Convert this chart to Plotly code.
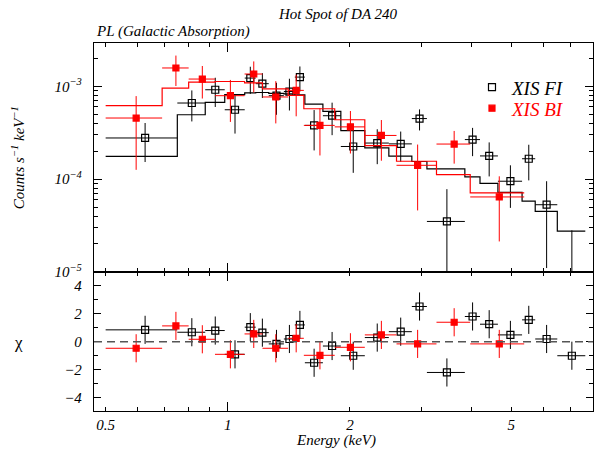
import math
import plotly.graph_objects as go

# ---------------- data ----------------
# XIS FI (front-illuminated) spectrum: bin edges (keV), rate, 1-sigma error, model, residual
fi_elo = [0.500, 0.751, 0.880, 0.983, 1.101, 1.172, 1.262, 1.375, 1.463, 1.549, 1.716,
          1.900, 2.177, 2.495, 2.843, 3.097, 3.841, 4.186, 4.634, 5.315, 5.727, 6.492]
fi_ehi = fi_elo[1:] + [7.61]
fi_rate = [2.78e-4, 6.62e-4, 9.2e-4, 5.6e-4, 1.23e-3, 1.07e-3, 7.94e-4, 8.8e-4, 1.26e-3,
           3.8e-4, 4.83e-4, 2.25e-4, 2.45e-4, 2.4e-4, 4.5e-4, 3.5e-5, 2.67e-4, 1.78e-4,
           9.5e-5, 1.66e-4, 5.3e-5, 1.0e-6]
fi_err = [1.25e-4, 2.43e-4, 3.2e-4, 2.5e-4, 4.0e-4, 3.2e-4, 3.0e-4, 3.3e-4, 3.8e-4,
          1.76e-4, 1.85e-4, 1.08e-4, 1.0e-4, 0.86e-4, 1.15e-4, 4.3e-5, 0.9e-4, 0.71e-4,
          4.6e-5, 0.69e-4, 4.2e-5, 2.7e-5]
fi_model = [1.76e-4, 4.95e-4, 6.73e-4, 8.15e-4, 8.5e-4, 8.6e-4, 8.4e-4, 8.3e-4, 8.1e-4,
            6.45e-4, 5.38e-4, 3.33e-4, 2.17e-4, 1.77e-4, 1.55e-4, 1.29e-4, 1.06e-4, 9.0e-5,
            7.2e-5, 5.8e-5, 4.5e-5, 2.75e-5]
fi_chi = [0.84, 0.67, 0.79, -0.90, 1.03, 0.64, -0.16, 0.19, 1.19, -1.50, -0.31,
          -1.00, 0.29, 0.71, 2.50, -2.19, 1.79, 1.24, 0.48, 1.55, 0.19, -1.00]

# XIS BI (back-illuminated) spectrum
bi_elo = [0.500, 0.689, 0.801, 0.930, 1.100, 1.218, 1.409, 1.540, 1.835, 2.177, 2.606,
          3.270, 3.960]
bi_ehi = bi_elo[1:] + [5.38]
bi_rate = [4.56e-4, 1.58e-3, 1.20e-3, 7.94e-4, 1.36e-3, 7.69e-4, 9.06e-4, 3.80e-4,
           3.66e-4, 2.96e-4, 1.41e-4, 2.39e-4, 6.43e-5]
bi_err = [3.3e-4, 5.7e-4, 4.6e-4, 3.8e-4, 5.0e-4, 3.7e-4, 4.3e-4, 2.0e-4, 1.77e-4,
          1.38e-4, 9.5e-5, 9.2e-5, 4.3e-5]
bi_model = [6.19e-4, 9.6e-4, 1.11e-3, 1.13e-3, 1.09e-3, 9.4e-4, 8.0e-4, 5.74e-4,
            4.37e-4, 2.30e-4, 1.56e-4, 1.12e-4, 7.1e-5]
bi_chi = [-0.47, 1.12, 0.17, -0.90, 0.55, -0.47, 0.24, -0.97, -0.40, 0.48, -0.16,
          1.38, -0.16]

x_ticks = [0.5, 1, 2, 5]
x_ticktext = ["0.5", "1", "2", "5"]
x_minor = [0.6, 0.7, 0.8, 0.9, 3, 4, 6, 7]
y_ticks = [1e-5, 1e-4, 1e-3]
y_ticktext = ["10<sup>\u22125</sup>", "10<sup>\u22124</sup>", "10<sup>\u22123</sup>"]
y_minor = [m * d for d in (1e-5, 1e-4) for m in range(2, 10)] + [2e-3, 3e-3]
chi_ticks = [-4, -2, 0, 2, 4]
chi_ticktext = ["\u22124", "\u22122", "0", "2", "4"]
chi_minor = [-3, -1, 1, 3]

# ---------------- figure ----------------
FONT = "Liberation Serif"
RED = "#ff0000"
BLACK = "#000000"


def centers(lo, hi):
    return [(a + b) / 2 for a, b in zip(lo, hi)]


def xerr(lo, hi):
    c = centers(lo, hi)
    return [h - m for h, m in zip(hi, c)], [m - l for m, l in zip(c, lo)]


fig = go.Figure()

for lo, hi, rate, err, model, chi, col, name, sym, size, leg in [
    (fi_elo, fi_ehi, fi_rate, fi_err, fi_model, fi_chi, BLACK,
     "<i>XIS FI</i>", "square-open", 7, "legend"),
    (bi_elo, bi_ehi, bi_rate, bi_err, bi_model, bi_chi, RED,
     "<i><span style='color:#ff0000'>XIS BI</span></i>", "square", 6, "legend2"),
]:
    xc = centers(lo, hi)
    xp, xm = xerr(lo, hi)
    # data points, top panel
    fig.add_trace(go.Scatter(
        x=xc, y=rate, mode="markers", name=name, xaxis="x2", yaxis="y", legend=leg,
        marker=dict(symbol=sym, size=size, color=col, line=dict(color=col, width=1.2)),
        error_x=dict(type="data", array=xp, arrayminus=xm, color=col, thickness=1, width=0),
        error_y=dict(type="data", array=err, arrayminus=err, color=col, thickness=1, width=0),
        hoverinfo="skip",
    ))
    # folded model as a step histogram
    fig.add_trace(go.Scatter(
        x=lo + [hi[-1]], y=model + [model[-1]], mode="lines", xaxis="x2", yaxis="y",
        line=dict(color=col, width=1.2, shape="hv"), showlegend=False, hoverinfo="skip",
    ))
    # residuals, bottom panel
    fig.add_trace(go.Scatter(
        x=xc, y=chi, mode="markers", xaxis="x", yaxis="y2", showlegend=False,
        marker=dict(symbol=sym, size=size, color=col, line=dict(color=col, width=1.2)),
        error_x=dict(type="data", array=xp, arrayminus=xm, color=col, thickness=1, width=0),
        error_y=dict(type="data", array=[1] * len(chi), color=col, thickness=1, width=0),
        hoverinfo="skip",
    ))

# invisible traces for the long decade tick at 1 keV
fig.add_trace(go.Scatter(x=[1], y=[0], xaxis="x3", yaxis="y2", mode="markers",
                         marker=dict(opacity=0), showlegend=False, hoverinfo="skip"))
fig.add_trace(go.Scatter(x=[1], y=[1e-4], xaxis="x4", yaxis="y", mode="markers",
                         marker=dict(opacity=0), showlegend=False, hoverinfo="skip"))

xr = [math.log10(0.468), math.log10(7.95)]
tickfont = dict(family=FONT, size=15, color=BLACK, style="italic")
axis_common = dict(showline=True, linecolor=BLACK, linewidth=1.3, mirror="ticks",
                   ticks="inside", tickcolor=BLACK, tickwidth=1, showgrid=False,
                   zeroline=False, tickfont=tickfont)
leg_common = dict(xanchor="left", yanchor="top",
                  font=dict(family=FONT, size=19, color=BLACK),
                  bgcolor="rgba(0,0,0,0)", borderwidth=0)

fig.update_layout(
    width=595, height=449,
    margin=dict(l=94, r=2, t=43, b=38),
    paper_bgcolor="white", plot_bgcolor="white",
    xaxis=dict(type="log", range=xr, anchor="y2", domain=[0, 1],
               tickmode="array", tickvals=x_ticks, ticktext=x_ticktext, ticklen=4,
               ticklabelstandoff=0,
               minor=dict(tickmode="array", tickvals=x_minor, ticks="inside", ticklen=4,
                          tickcolor=BLACK, showgrid=False),
               **axis_common),
    xaxis2=dict(type="log", range=xr, anchor="y", matches="x", showticklabels=False,
                tickmode="array", tickvals=x_ticks, ticklen=4,
                minor=dict(tickmode="array", tickvals=x_minor, ticks="inside", ticklen=4,
                           tickcolor=BLACK, showgrid=False),
                **axis_common),
    xaxis3=dict(type="log", range=xr, anchor="y2", overlaying="x", showticklabels=False,
                tickmode="array", tickvals=[1], ticks="inside", ticklen=9, tickcolor=BLACK,
                mirror="ticks", showline=False, showgrid=False, zeroline=False),
    xaxis4=dict(type="log", range=xr, anchor="y", overlaying="x2", showticklabels=False,
                tickmode="array", tickvals=[1], ticks="inside", ticklen=9, tickcolor=BLACK,
                mirror="ticks", showline=False, showgrid=False, zeroline=False),
    yaxis=dict(type="log", range=[-5, -2.532], domain=[0.378, 1], anchor="x2",
               tickmode="array", tickvals=y_ticks, ticktext=y_ticktext, ticklen=8,
               ticklabelstandoff=8,
               minor=dict(tickmode="array", tickvals=y_minor, ticks="inside", ticklen=4,
                          tickcolor=BLACK, showgrid=False),
               **axis_common),
    yaxis2=dict(range=[-4.93, 4.96], domain=[0, 0.378], anchor="x",
                tickmode="array", tickvals=chi_ticks, ticktext=chi_ticktext, ticklen=7,
                ticklabelstandoff=8,
                minor=dict(tickmode="array", tickvals=chi_minor, ticks="inside", ticklen=4,
                           tickcolor=BLACK, showgrid=False),
                **axis_common),
    legend=dict(x=0.7575, y=0.9312, **leg_common),
    legend2=dict(x=0.7575, y=0.8742, **leg_common),
    showlegend=True,
)

# zero line in the residual panel
fig.add_shape(type="line", xref="x domain", yref="y2", x0=0, x1=1, y0=0, y1=0,
              line=dict(color="#555555", width=1.5, dash="8px,5px"))

ann_font = dict(family=FONT, size=15, color=BLACK)
fig.add_annotation(text="<i>Hot Spot of DA 240</i>", xref="paper", yref="paper",
                   x=0.489, y=1.0788, xanchor="center", yanchor="middle",
                   showarrow=False, font=dict(family=FONT, size=15, color=BLACK))
fig.add_annotation(text="<i>PL (Galactic Absorption)</i>", xref="paper", yref="paper",
                   x=0.0, y=1.03, xanchor="left", yanchor="middle",
                   showarrow=False, font=ann_font)
fig.add_annotation(text="<i>Counts s<sup>\u22121</sup> keV<sup>\u22121</sup></i>",
                   xref="paper", yref="paper", x=-0.152, y=0.6875, textangle=-90,
                   xanchor="center", yanchor="middle", showarrow=False, font=ann_font)
fig.add_annotation(text="\u03c7", xref="paper", yref="paper", x=-0.152, y=0.187,
                   xanchor="center", yanchor="middle", showarrow=False,
                   font=dict(family=FONT, size=17, color=BLACK))
fig.add_annotation(text="<i>Energy (keV)</i>", xref="paper", yref="paper",
                   x=0.484, y=-0.079, xanchor="center", yanchor="middle",
                   showarrow=False, font=ann_font)

fig.write_html("out.html", config={"displayModeBar": False},
               post_script="document.body.style.margin='0';")
